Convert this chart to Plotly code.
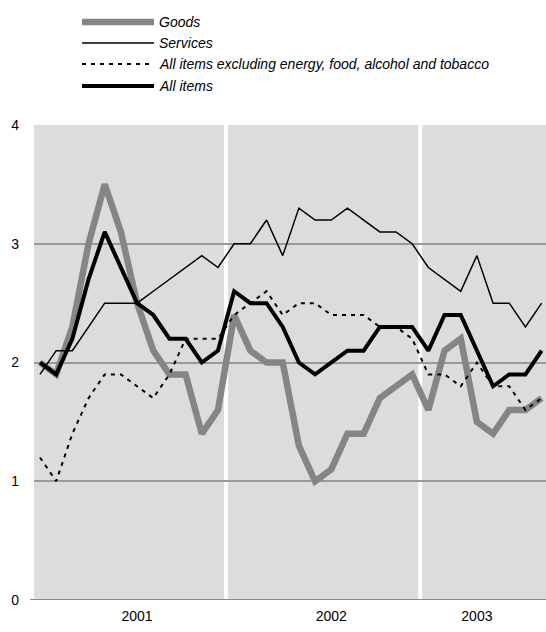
import plotly.graph_objects as go

months = [f"{y}-{m:02d}" for y in (2001, 2002) for m in range(1, 13)] + [f"2003-{m:02d}" for m in range(1, 9)]

goods = [2.0, 1.9, 2.3, 3.0, 3.5, 3.1, 2.5, 2.1, 1.9, 1.9, 1.4, 1.6,
         2.4, 2.1, 2.0, 2.0, 1.3, 1.0, 1.1, 1.4, 1.4, 1.7, 1.8, 1.9,
         1.6, 2.1, 2.2, 1.5, 1.4, 1.6, 1.6, 1.7]
services = [1.9, 2.1, 2.1, 2.3, 2.5, 2.5, 2.5, 2.6, 2.7, 2.8, 2.9, 2.8,
            3.0, 3.0, 3.2, 2.9, 3.3, 3.2, 3.2, 3.3, 3.2, 3.1, 3.1, 3.0,
            2.8, 2.7, 2.6, 2.9, 2.5, 2.5, 2.3, 2.5]
core = [1.2, 1.0, 1.4, 1.7, 1.9, 1.9, 1.8, 1.7, 1.9, 2.2, 2.2, 2.2,
        2.4, 2.5, 2.6, 2.4, 2.5, 2.5, 2.4, 2.4, 2.4, 2.3, 2.3, 2.2,
        1.9, 1.9, 1.8, 2.0, 1.8, 1.8, 1.6, 1.7]
all_items = [2.0, 1.9, 2.2, 2.7, 3.1, 2.8, 2.5, 2.4, 2.2, 2.2, 2.0, 2.1,
             2.6, 2.5, 2.5, 2.3, 2.0, 1.9, 2.0, 2.1, 2.1, 2.3, 2.3, 2.3,
             2.1, 2.4, 2.4, 2.1, 1.8, 1.9, 1.9, 2.1]

year_ticks = ["2001-07", "2002-07", "2003-04"]
year_labels = ["2001", "2002", "2003"]
y_ticks = [0, 1, 2, 3, 4]

series = [
    ("Goods", goods, dict(color="#858585", width=6.5)),
    ("Services", services, dict(color="black", width=1.5)),
    ("All items excluding energy, food, alcohol and tobacco", core,
     dict(color="black", width=2, dash="4px,5px")),
    ("All items", all_items, dict(color="black", width=4)),
]

fig = go.Figure()
for name, vals, line in series:
    fig.add_trace(go.Scatter(x=months, y=vals, mode="lines", name=name,
                             line=line, showlegend=False, hoverinfo="skip"))

W, H = 546, 632
ml, mr, mt, mb = 34, 0, 125, 32
pw, ph = W - ml - mr, H - mt - mb

def px(xp):
    return (xp - ml) / pw

def py(yp):
    return (H - mb - yp) / ph

shapes = []
for b in (11.5, 23.5):
    shapes.append(dict(type="line", xref="x", yref="paper", x0=b, x1=b, y0=0, y1=1,
                       line=dict(color="white", width=4), layer="between"))

annotations = []
leg_y = [22, 43, 64, 86]
for (name, vals, line), yy in zip(series, leg_y):
    shapes.append(dict(type="line", xref="paper", yref="paper",
                       x0=px(82), x1=px(154), y0=py(yy), y1=py(yy),
                       line=dict(color=line["color"], width=line["width"],
                                 dash=line.get("dash", "solid"))))
    annotations.append(dict(xref="paper", yref="paper", x=px(157), y=py(yy),
                            xanchor="left", yanchor="middle", showarrow=False,
                            text=f"<i>{name}</i>",
                            font=dict(family="Liberation Sans, Arial", size=14, color="black")))

fig.update_layout(
    width=W, height=H,
    margin=dict(l=ml, r=mr, t=mt, b=mb),
    paper_bgcolor="white", plot_bgcolor="#dcdcdc",
    font=dict(family="Liberation Sans, Arial", size=14, color="black"),
    shapes=shapes, annotations=annotations,
    showlegend=False,
)
fig.update_xaxes(type="category", range=[-0.37, 31.27], tickmode="array",
                 tickvals=year_ticks, ticktext=year_labels, showgrid=False,
                 ticks="", showline=False, zeroline=False, ticklabelstandoff=6)
fig.update_yaxes(range=[0, 4], tickvals=y_ticks, showgrid=True, gridcolor="#999999",
                 gridwidth=2, zeroline=False, showline=False, ticks="",
                 ticklabelstandoff=14)
fig.add_shape(type="line", xref="paper", yref="y", x0=px(30), x1=1, y0=0, y1=0,
              line=dict(color="#888888", width=2))

fig.write_html("out.html", config={"displayModeBar": False},
               post_script="document.body.style.margin='0';document.body.style.overflow='hidden';")
